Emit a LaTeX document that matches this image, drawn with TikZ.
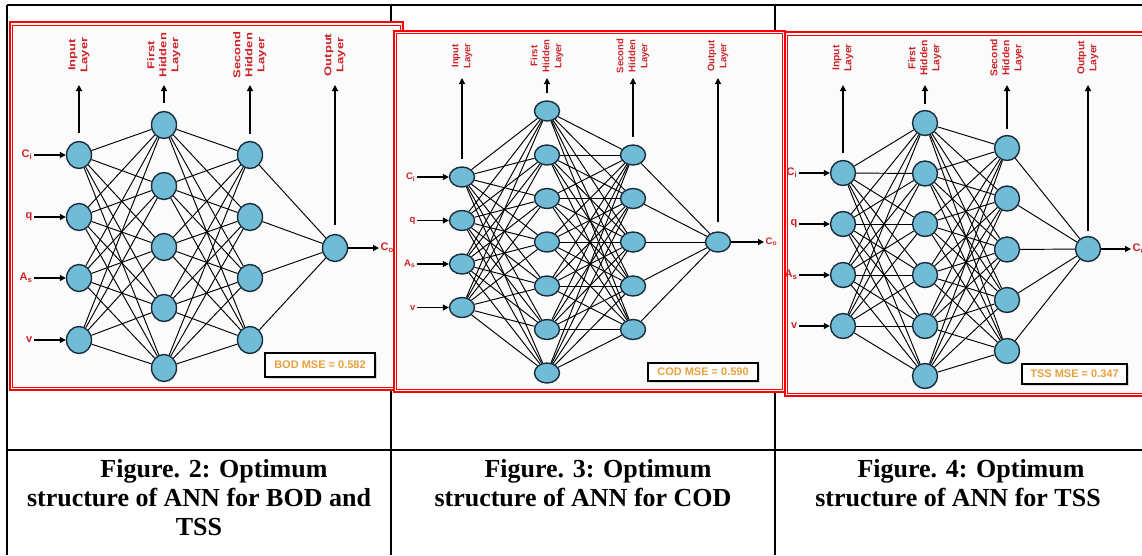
\documentclass[tikz,border=0pt]{standalone}
\usepackage{graphicx}
\usepackage{fontspec}
\setmainfont{Liberation Serif}
\newfontfamily\arialf{Liberation Sans}
\usetikzlibrary{shapes.geometric,arrows.meta,shadows}
\definecolor{nfill}{RGB}{112,187,214}
\definecolor{ndraw}{RGB}{25,45,60}
\definecolor{lred}{RGB}{205,35,40}
\definecolor{mseor}{RGB}{232,160,60}
\definecolor{pbg}{RGB}{251,251,251}
\definecolor{fred}{RGB}{255,0,0}
\newcommand{\lyrtxt}[3]{\scalebox{#1}[1]{\fontsize{#2}{12}\selectfont\begin{tabular}{@{}c@{}}#3\end{tabular}}}
\begin{document}
\begin{tikzpicture}[x=1pt,y=-1pt,
  nrn/.style={ellipse, fill=nfill, draw=ndraw, line width=1.4pt, inner sep=0pt, minimum width=25pt},
  nrna/.style={nrn, minimum height=27pt},
  nrnb/.style={nrn, minimum height=20pt},
  nrnc/.style={nrn, minimum height=25pt},
  conn/.style={line width=0.95pt, black},
  arr/.style={line width=1.2pt, black, -{Triangle[length=6pt,width=6pt]}},
  lyr/.style={rotate=90, text=lred, font=\arialf\bfseries, inner sep=0pt},
  inl/.style={text=lred, font=\arialf\bfseries\fontsize{11}{13}\selectfont, inner sep=1.5pt},
  inlb/.style={inl, font=\arialf\bfseries\fontsize{9.5}{11}\selectfont},
  msebox/.style={draw=black, line width=1.3pt, fill=white, text=mseor, font=\arialf\bfseries\fontsize{11}{13}\selectfont, inner sep=0pt, drop shadow={shadow xshift=2pt, shadow yshift=-2pt, fill=gray!55}},
  tline/.style={line width=1.3pt, black},
  capt/.style={font=\bfseries\fontsize{26}{29}\selectfont, align=center, anchor=north, inner sep=0pt}
]
\useasboundingbox (0,0) rectangle (1142,555);
\fill[white] (0,0) rectangle (1142,555);
% table rules
\draw[tline] (7,5) -- (1142,5);
\draw[tline] (7,5) -- (7,555);
\draw[tline] (391,5) -- (391,555);
\draw[tline] (775,5) -- (775,555);
\draw[tline, line width=2.2pt] (7,450) -- (1142,450);

% ================= Panel 1 (BOD) =================
\fill[pbg] (9.5,22) rectangle (403,390);
\foreach \k/\yy in {1/155,2/217,3/278,4/340} \node[nrna] (a-i\k) at (79,\yy) {};
\foreach \k/\yy in {1/125,2/186,3/247,4/308,5/368} \node[nrna] (a-h\k) at (164,\yy) {};
\foreach \k/\yy in {1/155,2/217,3/278,4/340} \node[nrna] (a-g\k) at (250,\yy) {};
\node[nrna] (a-o) at (335,248) {};
\foreach \i in {1,...,4} \foreach \j in {1,...,5} \draw[conn] (a-i\i) -- (a-h\j);
\foreach \i in {1,...,5} \foreach \j in {1,...,4} \draw[conn] (a-h\i) -- (a-g\j);
\foreach \i in {1,...,4} \draw[conn] (a-g\i) -- (a-o);
\node[lyr] (a-L1) at (79,55) {\lyrtxt{1.3}{10}{Input\\Layer}};
\node[lyr] (a-L2) at (164,55) {\lyrtxt{1.3}{10}{First\\Hidden\\Layer}};
\node[lyr] (a-L3) at (250,55) {\lyrtxt{1.3}{10}{Second\\Hidden\\Layer}};
\node[lyr] (a-L4) at (335,55) {\lyrtxt{1.3}{10}{Output\\Layer}};
\coordinate (a-t1) at (79,85);
\coordinate (a-t2) at (164,85);
\coordinate (a-t3) at (250,85);
\coordinate (a-t4) at (335,85);
\draw[arr] ([yshift=8pt]a-i1.north) -- (a-t1);
\draw[arr] ([yshift=8pt]a-h1.north) -- (a-t2);
\draw[arr] ([yshift=7pt]a-g1.north) -- (a-t3);
\draw[arr] ([yshift=9pt]a-o.north) -- (a-t4);
\foreach \k/\yy/\t in {1/155/{C\textsubscript{i}},2/217/{q},3/278/{A\textsubscript{s}},4/340/{v}} {
  \node[inl, anchor=east] (a-l\k) at (34,\yy) {\t};
  \draw[arr] (a-l\k.east) -- (a-i\k);
}
\node[inl, anchor=west] (a-lo) at (379,248) {C\textsubscript{o}};
\draw[arr] (a-o) -- (a-lo.west);
\node[msebox, minimum width=110pt, minimum height=24pt] (a-mse) at (320,365) {BOD MSE = 0.582};
\draw[fred, line width=2pt] (9.5,22) rectangle (403,390);
\draw[fred, line width=0.8pt] (12.5,25) rectangle (400,387);

% ================= Panel 2 (COD) =================
\fill[pbg] (393.5,30.5) rectangle (785,392);
\foreach \k/\yy in {1/177,2/220.5,3/264,4/307.5} \node[nrnb] (b-i\k) at (462,\yy) {};
\foreach \k/\yy in {1/111,2/155,3/198.5,4/242,5/286,6/329.5,7/373} \node[nrnb] (b-h\k) at (547,\yy) {};
\foreach \k/\yy in {1/155,2/198.5,3/242,4/286,5/329.5} \node[nrnb] (b-g\k) at (633,\yy) {};
\node[nrnb] (b-o) at (718,242) {};
\foreach \i in {1,...,4} \foreach \j in {1,...,7} \draw[conn] (b-i\i) -- (b-h\j);
\foreach \i in {1,...,7} \foreach \j in {1,...,5} \draw[conn] (b-h\i) -- (b-g\j);
\foreach \i in {1,...,5} \draw[conn] (b-g\i) -- (b-o);
\node[lyr] (b-L1) at (462,56) {\lyrtxt{1}{9.5}{Input\\Layer}};
\node[lyr] (b-L2) at (547,56) {\lyrtxt{1}{9.5}{First\\Hidden\\Layer}};
\node[lyr] (b-L3) at (633,56) {\lyrtxt{1}{9.5}{Second\\Hidden\\Layer}};
\node[lyr] (b-L4) at (718,56) {\lyrtxt{1}{9.5}{Output\\Layer}};
\coordinate (b-t1) at (462,78);
\coordinate (b-t2) at (547,78);
\coordinate (b-t3) at (633,78);
\coordinate (b-t4) at (718,78);
\draw[arr] ([yshift=7pt]b-i1.north) -- (b-t1);
\draw[arr] ([yshift=7pt]b-h1.north) -- (b-t2);
\draw[arr] ([yshift=7pt]b-g1.north) -- (b-t3);
\draw[arr] ([yshift=9pt]b-o.north) -- (b-t4);
\foreach \k/\yy/\t in {1/177/{C\textsubscript{i}},2/220.5/{q},3/264/{A\textsubscript{s}},4/307.5/{v}} {
  \node[inlb, anchor=east] (b-l\k) at (417,\yy) {\t};
  \draw[arr] (b-l\k.east) -- (b-i\k);
}
\node[inlb, anchor=west] (b-lo) at (764,242) {C\textsubscript{o}};
\draw[arr] (b-o) -- (b-lo.west);
\node[msebox, minimum width=110pt, minimum height=18pt] (b-mse) at (703,372) {COD MSE = 0.590};
\draw[fred, line width=2pt] (393.5,30.5) rectangle (785,392);
\draw[fred, line width=0.8pt] (396.5,33.5) rectangle (782,389);

% ================= Panel 3 (TSS) =================
\fill[pbg] (784.5,32) rectangle (1150,396);
\foreach \k/\yy in {1/173,2/224,3/275,4/326} \node[nrnc] (c-i\k) at (843,\yy) {};
\foreach \k/\yy in {1/123,2/173.5,3/224,4/275,5/326,6/376} \node[nrnc] (c-h\k) at (925,\yy) {};
\foreach \k/\yy in {1/148,2/198.5,3/249.5,4/300,5/351} \node[nrnc] (c-g\k) at (1007,\yy) {};
\node[nrnc] (c-o) at (1088,249) {};
\foreach \i in {1,...,4} \foreach \j in {1,...,6} \draw[conn] (c-i\i) -- (c-h\j);
\foreach \i in {1,...,6} \foreach \j in {1,...,5} \draw[conn] (c-h\i) -- (c-g\j);
\foreach \i in {1,...,5} \draw[conn] (c-g\i) -- (c-o);
\node[lyr] (c-L1) at (843,58) {\lyrtxt{1.03}{10}{Input\\Layer}};
\node[lyr] (c-L2) at (925,58) {\lyrtxt{1.03}{10}{First\\Hidden\\Layer}};
\node[lyr] (c-L3) at (1007,58) {\lyrtxt{1.03}{10}{Second\\Hidden\\Layer}};
\node[lyr] (c-L4) at (1088,58) {\lyrtxt{1.03}{10}{Output\\Layer}};
\coordinate (c-t1) at (843,85);
\coordinate (c-t2) at (925,85);
\coordinate (c-t3) at (1007,85);
\coordinate (c-t4) at (1088,85);
\draw[arr] ([yshift=7pt]c-i1.north) -- (c-t1);
\draw[arr] ([yshift=6pt]c-h1.north) -- (c-t2);
\draw[arr] ([yshift=6pt]c-g1.north) -- (c-t3);
\draw[arr] ([yshift=5pt]c-o.north) -- (c-t4);
\foreach \k/\yy/\t in {1/173/{C\textsubscript{i}},2/224/{q},3/275/{A\textsubscript{s}},4/326/{v}} {
  \node[inl, anchor=east] (c-l\k) at (799,\yy) {\t};
  \draw[arr] (c-l\k.east) -- (c-i\k);
}
\node[inl, anchor=west] (c-lo) at (1131,249) {C\textsubscript{o}};
\draw[arr] (c-o) -- (c-lo.west);
\node[msebox, minimum width=105pt, minimum height=20pt] (c-mse) at (1074.5,374) {TSS MSE = 0.347};
\draw[fred, line width=2pt] (784.5,32) rectangle (1150,396);
\draw[fred, line width=0.8pt] (787.5,35) rectangle (1150,393);

% ================= Captions =================
\node[capt] (cap1) at (199,459) {\hspace*{30pt}Figure. 2: Optimum\\structure of ANN for BOD and\\TSS};
\node[capt] (cap2) at (583,459) {\hspace*{30pt}Figure. 3: Optimum\\structure of ANN for COD};
\node[capt] (cap3) at (958,459) {\hspace*{26pt}Figure. 4: Optimum\\structure of ANN for TSS};
\end{tikzpicture}
\end{document}
